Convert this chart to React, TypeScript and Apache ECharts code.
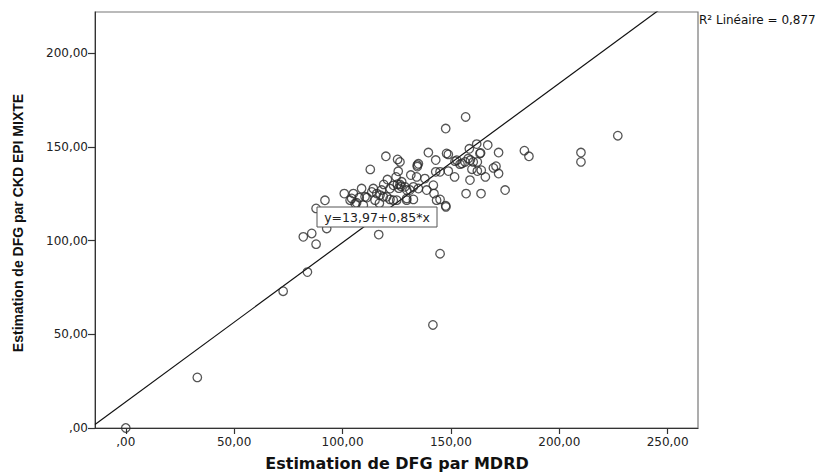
import React, { useEffect, useRef } from "react";
import * as echarts from "echarts";

// Estimation de DFG par MDRD (x) and par CKD EPI MIXTE (y)
const mdrd = [
  0, 33, 72.6, 83.8, 81.9, 85.8, 87.8, 92.7, 87.8, 91.9, 116.7, 145, 141.7,
  100.8, 105, 104.2, 107.7, 111.2, 106.5, 109.6, 108.8, 113.5, 115.8, 118, 118.8,
  115, 117.3, 121.9, 120.7, 124.7, 125.3, 127.3, 128.8, 121.9, 125, 129.6, 132.7,
  131.1, 135, 138.8, 141.9, 131.5, 134.2, 138, 143, 125.7, 112.8, 120, 125.4,
  126.5, 134.5, 134.5, 135, 139.6, 143, 148, 147.6, 156.8, 147.6, 143.4, 142.2,
  126.5, 127, 126, 123.5, 119, 129.6, 132.7, 110.4, 103.5, 105.8, 120.4, 123.4,
  129.6, 117, 114.2,
  148.8, 158.5, 161.9, 167, 163.7, 172, 183.9, 186, 210, 210, 227, 151.9, 154.2,
  156.5, 158, 160.3, 162.2, 163.4, 159.7, 162.2, 148.8, 145, 170.8, 169.6, 172,
  165.9, 158.8, 151.7, 157, 163.9, 175, 147.7, 145, 152.7, 155.1, 159, 164,
];
const ckdEpi = [
  0, 27, 73, 83.2, 102, 103.8, 98.1, 106.5, 117.2, 121.5, 103.2, 93, 55,
  125.1, 125.1, 122.5, 123, 123, 120.2, 118.9, 127.8, 126, 125.1, 127, 123.4,
  121.6, 124.3, 127.8, 132.6, 134, 130.1, 131.4, 128.7, 122, 121.6, 122.5, 122,
  127, 127.8, 127, 129.6, 135, 134, 133.1, 136.7, 137, 138, 145, 143.3,
  142, 140.3, 139.5, 141, 147, 143, 146.5, 159.8, 166, 118.6, 121.6, 125.1,
  130, 129, 128, 129.5, 130, 127, 128.7, 123.4, 121.6, 119.8, 123.4, 121.6,
  121.6, 120, 127.8,
  146, 149, 151.5, 151, 146.8, 147, 148, 145, 147, 142, 156, 142.4, 140.8,
  142, 143.8, 142, 142, 146.5, 138.1, 137.1, 137.1, 136.7, 139.7, 138.8, 135.8,
  134, 132.3, 134, 125.1, 125.1, 127, 118, 122, 142.9, 141.2, 143, 137.6,
];
const xTicks = [0, 50, 100, 150, 200, 250];
const yTicks = [0, 50, 100, 150, 200];
const intercept = 13.97;
const slope = 0.85;
const rSquared = "0,877";

const X_MIN = -14.2;
const X_MAX = 264;
const Y_MIN = 0;
const Y_MAX = 222;

const fmt = (v: number) => (v === 0 ? ",00" : v.toFixed(2).replace(".", ","));

export default function App() {
  const ref = useRef<HTMLDivElement>(null);
  useEffect(() => {
    document.body.style.margin = "0";
    const chart = echarts.init(ref.current!, null, { renderer: "svg" });
    const labelFont = "'DejaVu Sans', 'Liberation Sans', Arial, sans-serif";
    chart.setOption({
      animation: false,
      backgroundColor: "#ffffff",
      grid: {
        left: 95,
        right: 123,
        top: 12,
        bottom: 45,
        show: true,
        borderColor: "#777",
        borderWidth: 1.2,
        backgroundColor: "transparent",
      },
      xAxis: {
        type: "value",
        min: X_MIN,
        max: X_MAX,
        splitLine: { show: false },
        axisLine: { show: true, onZero: false, lineStyle: { color: "#333", width: 1 } },
        axisTick: { show: true, length: 6, customValues: xTicks, lineStyle: { color: "#333", width: 1.2 } },
        axisLabel: {
          customValues: xTicks,
          formatter: fmt,
          color: "#222",
          fontSize: 12,
          fontFamily: labelFont,
          margin: 8,
        },
      },
      yAxis: {
        type: "value",
        min: Y_MIN,
        max: Y_MAX,
        splitLine: { show: false },
        axisLine: { show: true, onZero: false, lineStyle: { color: "#333", width: 1 } },
        axisTick: { show: true, length: 7, customValues: yTicks, lineStyle: { color: "#333", width: 1.2 } },
        axisLabel: {
          customValues: yTicks,
          formatter: fmt,
          color: "#222",
          fontSize: 12,
          fontFamily: labelFont,
          margin: 7,
        },
      },
      series: [
        {
          type: "scatter",
          data: mdrd.map((x, i) => [x, ckdEpi[i]]),
          symbol: "circle",
          symbolSize: 8.5,
          itemStyle: { color: "rgba(0,0,0,0)", borderColor: "#2a2a2a", borderWidth: 1.3 },
          z: 3,
        },
        {
          type: "line",
          data: [
            [X_MIN, intercept + slope * X_MIN],
            [X_MAX, intercept + slope * X_MAX],
          ],
          symbol: "none",
          clip: true,
          lineStyle: { color: "#111", width: 1.2 },
          z: 2,
        },
      ],
      graphic: [
        {
          type: "text",
          x: 397,
          y: 463,
          style: {
            text: "Estimation de DFG par MDRD",
            font: "bold 16px 'DejaVu Sans', 'Liberation Sans', Arial, sans-serif",
            fill: "#111",
            align: "center",
            verticalAlign: "middle",
          },
        },
        {
          type: "text",
          x: 18,
          y: 223,
          rotation: Math.PI / 2,
          style: {
            text: "Estimation de DFG par CKD EPI MIXTE",
            font: "bold 14px 'Liberation Sans Narrow', 'Liberation Sans', Arial, sans-serif",
            fill: "#111",
            align: "center",
            verticalAlign: "middle",
          },
        },
        {
          type: "text",
          x: 699,
          y: 20,
          style: {
            text: "R² Linéaire = " + rSquared,
            font: "12px 'DejaVu Sans', 'Liberation Sans', Arial, sans-serif",
            fill: "#111",
            align: "left",
            verticalAlign: "middle",
          },
        },
        {
          type: "rect",
          z: 100,
          shape: { x: 317, y: 207, width: 120, height: 20 },
          style: { fill: "#fff", stroke: "#555", lineWidth: 1 },
        },
        {
          type: "text",
          z: 101,
          x: 377,
          y: 217,
          style: {
            text:
              "y=" +
              intercept.toFixed(2).replace(".", ",") +
              "+" +
              slope.toFixed(2).replace(".", ",") +
              "*x",
            font: "12.5px " + labelFont,
            fill: "#222",
            align: "center",
            verticalAlign: "middle",
          },
        },
      ],
    });
    return () => chart.dispose();
  }, []);
  return (
    <div
      ref={ref}
      style={{ position: "absolute", left: 0, top: 0, width: 821, height: 473 }}
    />
  );
}
